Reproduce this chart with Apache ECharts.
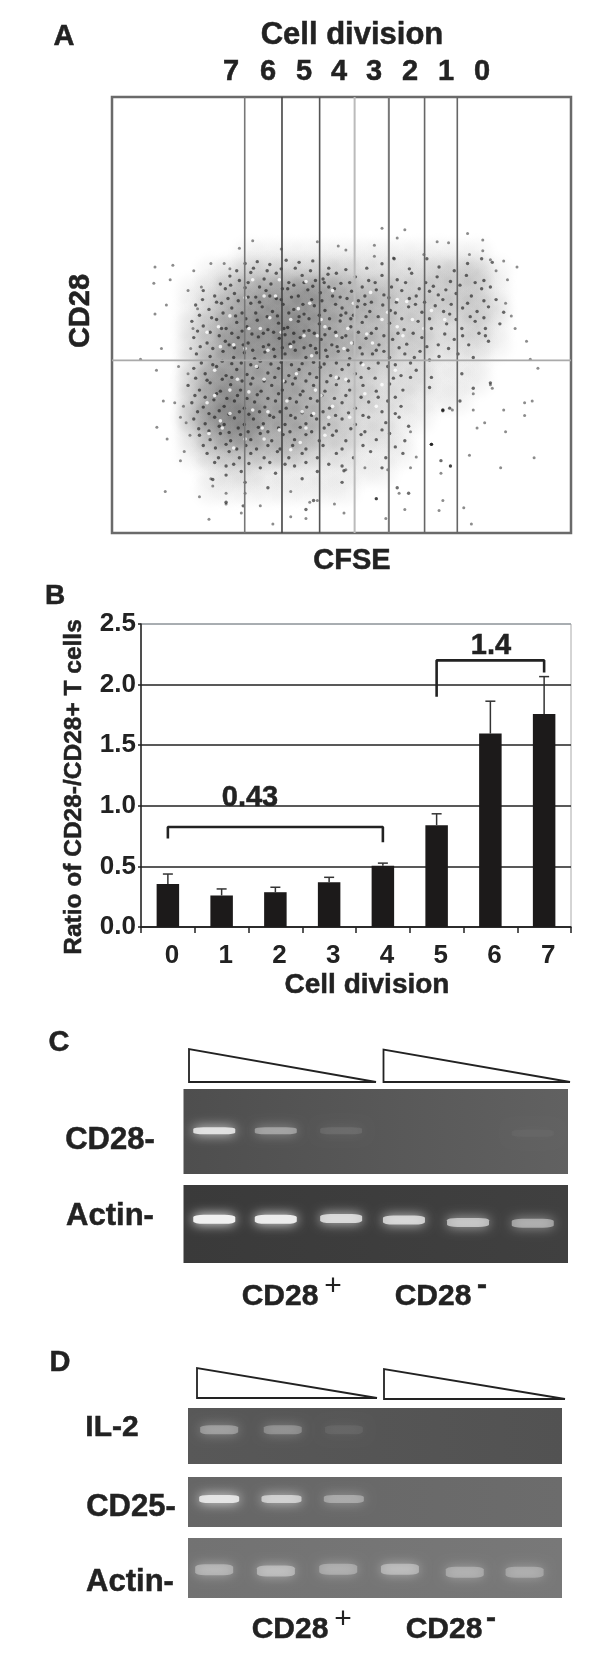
<!DOCTYPE html>
<html><head><meta charset="utf-8">
<style>html,body{margin:0;padding:0;background:#fff}#c{width:600px;height:1654px}</style>
<script src="https://cdn.jsdelivr.net/npm/echarts@6/dist/echarts.min.js"></script>
</head><body><div id="c"></div>
<script>
// ---------- Panel A: values (channel units follow the plot frame)
const gateChannels = [639, 737, 836, 928, 1018, 1112, 1198];
const quadrantChannel = 993;
const densityColumns = [400,450,500,550,600,650,700,750,800,850,900,950,1000,1050,1100,1150,1200,1250,1300,1350,1400];
const densityRows = [700,750,800,850,900,950,1000,1050,1100,1150,1200,1250,1300,1350];
const densityLevels = [
 [0,0,0,0,0,1,1,1,1,1,1,1,1,1,1,1,1,1,0,0,0],
 [0,0,0,1,2,3,3,3,3,3,3,2,2,2,2,3,3,3,1,0,0],
 [0,0,1,2,4,5,6,6,7,6,5,4,4,3,3,3,3,3,1,0,0],
 [0,0,1,3,5,6,7,7,7,6,5,5,4,3,3,3,3,3,2,0,0],
 [0,0,2,4,6,7,7,8,7,6,5,4,4,3,3,2,2,3,1,0,0],
 [0,0,2,4,7,7,7,8,7,6,5,5,4,3,3,2,2,2,1,0,0],
 [0,0,2,5,6,6,6,6,6,5,4,3,3,2,2,1,1,1,0,0,0],
 [0,0,3,6,7,6,6,6,5,4,3,3,2,2,2,1,1,1,0,0,0],
 [0,0,3,6,8,7,6,6,5,4,3,3,2,2,1,1,1,0,0,0,0],
 [0,0,4,7,8,8,6,6,5,4,3,2,2,1,1,0,0,0,0,0,0],
 [0,0,2,5,7,7,5,5,5,3,3,2,2,1,0,0,0,0,0,0,0],
 [0,0,1,3,4,4,4,4,3,2,2,1,1,1,0,0,0,0,0,0,0],
 [0,0,0,1,2,2,1,1,1,1,1,1,1,0,0,0,0,0,0,0,0],
 [0,0,0,1,1,1,1,1,1,1,1,0,0,0,0,0,0,0,0,0,0]
];
const outlierEvents = [[403,735],[450,730],[400,780],[443,770],[433,840],[403,865],[420,960],[365,990],[407,1020],[465,1010],[425,1105],[455,1110],[470,1150],[408,1178],[435,1210],[430,1355],[520,1370],[550,1320],[590,1390],[545,1432],[630,1415],[680,1395],[713,1445],[760,1425],[800,1430],[830,1380],[875,1390],[900,1415],[985,1375],[1010,1430],[1060,1405],[1150,1408],[1215,1400],[1235,1445],[1160,1380],[1045,1360],[1400,1262],[1312,1290],[1395,1105],[1375,1110],[1375,1145],[1410,1015],[1390,990],[1380,940],[1355,735],[1320,718],[1265,660],[1225,642],[1060,632],[1000,628],[1040,655],[660,662],[625,683],[735,685],[830,665],[885,677],[905,688],[980,675],[1145,665],[1175,668],[1265,690],[1285,715],[1230,700],[1110,700],[1030,710],[980,705],[550,725],[585,725],[505,745],[490,800],[1340,870],[1325,835],[1350,905],[1290,1070],[1240,1085],[1320,1130],[1270,1165],[1250,1180],[1325,1190],[1230,1255],[1180,1285],[1155,1305],[1130,1225],[1090,1260],[1075,1190],[1185,1130],[1160,1130],[1240,1130],[1285,1060],[905,1295],[955,1290],[1015,1295],[1075,1290],[760,1355],[810,1385],[640,1360],[590,1360],[555,1340],[470,1270],[480,1245],[495,1200],[485,1165],[478,1120],[490,1030],[497,960],[503,905],[515,850],[525,790],[600,740],[1330,770],[1300,745]];
const darkEvents = [
[640,725],[672,720],[705,728],[748,716],[782,722],[818,718],[860,738],[905,742],[960,738],[1000,726],[1032,712],[1072,740],[1118,712],[1150,735],[1190,745],[1225,725],[1262,712],[1290,722],
[600,760],[625,772],[655,750],[690,768],[722,752],[755,778],[790,758],[825,772],[858,755],[892,780],[930,762],[965,772],[1000,758],[1040,770],[1078,752],[1115,778],[1145,762],[1180,775],[1222,758],[1268,772],[1285,790],
[530,800],[560,815],[588,795],[612,808],[640,792],[668,818],[695,800],[722,822],[752,795],[780,815],[805,798],[838,806],[860,790],[890,818],[920,802],[955,815],[985,798],[1018,820],[1052,800],[1090,815],[1125,802],[1160,825],[1195,808],[1235,815],[1262,795],[1300,825],
[510,840],[545,852],[578,835],[605,848],[632,862],[655,835],[685,845],[712,858],[740,838],[768,852],[795,865],[822,842],[850,855],[878,838],[905,862],[935,845],[968,858],[1002,840],[1035,862],[1070,845],[1105,860],[1140,842],[1178,865],[1212,848],[1250,858],[1280,845],[1320,860],
[500,885],[530,898],[565,880],[590,905],[618,888],[645,900],[672,882],[700,908],[728,890],[752,902],[780,885],[808,910],[835,892],[862,905],[890,884],[918,900],[948,888],[985,905],[1020,890],[1058,908],[1095,885],[1130,905],[1170,892],[1210,905],[1245,885],[1272,905],[1310,892],
[505,930],[540,945],[572,925],[598,950],[622,930],[648,945],[675,928],[702,950],[730,932],[745,922],[758,948],[785,930],[812,952],[840,935],[868,950],[895,930],[925,945],[958,932],[992,950],[1028,935],[1065,948],[1105,930],[1148,950],[1190,935],[1228,950],[1272,925],[1280,940],
[512,975],[548,982],[582,968],[610,985],[638,972],[665,988],[692,970],[718,982],[745,975],[772,965],[800,985],[828,972],[856,982],[885,968],[915,988],[948,975],[985,965],[1020,985],[1060,975],[1100,968],[1150,982],[1200,975],[1240,985],
[505,1015],[535,1030],[565,1010],[590,1035],[618,1018],[645,1032],[672,1012],[700,1028],[728,1015],[755,1035],[782,1018],[810,1030],[838,1012],[865,1035],[895,1018],[930,1030],[965,1015],[1015,1010],[1050,1035],[1090,1020],[1130,1040],[1210,1030],[1285,1055],
[490,1062],[520,1075],[548,1055],[575,1078],[602,1060],[628,1075],[655,1058],[682,1078],[710,1062],[738,1075],[765,1058],[792,1078],[820,1062],[850,1078],[880,1060],[915,1075],[950,1062],[985,1078],[1020,1058],[1055,1075],[1125,1068],[1240,1070],
[500,1110],[530,1122],[558,1102],[585,1120],[612,1105],[638,1125],[665,1108],[692,1122],[720,1105],[748,1125],[775,1108],[802,1122],[830,1105],[862,1125],[895,1110],[930,1125],[965,1108],[1015,1105],[1050,1120],[1160,1132],[1178,1125],[1205,1105],
[505,1155],[535,1168],[560,1150],[585,1170],[612,1152],[638,1170],[662,1155],[688,1168],[715,1150],[745,1170],[772,1152],[800,1168],[828,1155],[860,1170],[895,1155],[930,1170],[965,1150],[1010,1165],[1045,1150],[1070,1175],
[520,1200],[548,1212],[575,1195],[602,1215],[628,1198],[655,1212],[680,1195],[710,1215],[740,1198],[770,1212],[800,1198],[835,1215],[870,1200],[905,1215],[945,1198],[985,1212],[1020,1195],[1060,1215],[1130,1225],
[540,1250],[570,1262],[598,1245],[625,1262],[655,1250],[690,1262],[725,1245],[755,1262],[790,1250],[830,1262],[880,1250],[925,1262],[970,1245],[1010,1262],[1055,1250],
[590,1285],[630,1300],[680,1290],[720,1305],[770,1285],[830,1300],[895,1285],[900,1298],[1000,1290],[590,1310],[555,1322],[640,1330],[700,1345],[790,1320],[895,1330],[1040,1345],[1070,1360],[985,1375],[820,1380],[800,1405],[635,1395],[590,1385],[1155,1270],[1180,1285],[1130,1225],[1160,1130],
[618,745],[662,738],[698,745],[735,740],[772,738],[812,745],[845,768],[880,752],[915,778],[948,790],[982,778],[1025,790],[1062,778],[1098,795],[1135,788],[1168,798],[1205,785],[1245,778],
[575,782],[602,785],[648,778],[678,790],[708,782],[738,795],[768,785],[795,778],[818,788],[848,778],[875,795],[908,822],[938,828],[972,832],[1005,812],[1038,832],[1072,822],[1112,832],[1148,812],[1182,838],[1225,835],[1268,828],
[528,825],[565,832],[595,822],[622,828],[648,818],[678,832],[705,815],[735,825],[762,818],[792,838],[815,825],[842,828],[870,815],[895,848],[925,868],[955,838],[990,872],[1022,855],[1052,878],[1088,838],[1125,878],[1162,858],[1195,880],[1232,872],[1268,875],
[520,868],[552,875],[582,862],[615,870],[642,878],[668,862],[698,872],[725,870],[755,862],[782,872],[808,878],[835,868],[862,878],[892,868],[918,878],[958,872],
[515,912],[548,915],[578,905],[605,918],[632,912],[658,920],[688,918],[715,915],[742,905],[768,918],[795,912],[822,918],[850,922],[878,915],[905,925],[938,915],[972,918],[1005,925],[1042,918],[1082,918],[1118,955],[1165,920],[1212,925],[1255,918],
[522,955],[555,960],[588,940],[612,958],[635,950],[660,965],[688,955],[715,962],[738,958],[768,942],[795,958],[825,960],[852,965],[882,955],[910,965],[942,958],[975,975],[1005,968],[1045,958],[1085,985],[1125,992],[1175,960],
[525,1000],[555,1005],[580,995],[605,1002],[630,1000],[655,1005],[680,995],[708,1003],[735,998],[762,1005],[790,1002],[820,998],[848,1003],[880,1000],[912,1005],[945,1000],[990,1000],[1035,1005],[1075,1000],
[510,1042],[540,1048],[580,1045],[605,1040],[632,1050],[660,1042],[690,1050],[718,1040],[745,1052],[772,1042],[800,1050],[828,1040],[855,1052],[885,1042],[912,1050],[945,1040],[982,1042],[1030,1042],[1075,1040],
[508,1090],[535,1095],[565,1085],[592,1098],[620,1090],[645,1098],[672,1088],[700,1098],[728,1085],[758,1098],[785,1088],[812,1098],[842,1090],[875,1098],[905,1090],[945,1095],[990,1095],[1035,1095],
[515,1135],[545,1140],[572,1132],[598,1142],[625,1135],[650,1142],[678,1135],[705,1145],[732,1135],[760,1145],[790,1138],[815,1145],[845,1135],[878,1145],[912,1138],[950,1145],[1000,1135],[1035,1140],
[518,1182],[545,1188],[572,1175],[598,1192],[622,1180],[648,1190],[675,1178],[700,1190],[728,1180],[758,1190],[785,1178],[815,1190],[848,1180],[880,1188],[918,1182],[955,1190],[1000,1185],
[530,1228],[562,1235],[590,1225],[618,1238],[642,1228],[670,1238],[700,1228],[732,1238],[765,1228],[800,1238],[845,1228],[895,1238],[950,1228],[1035,1232],
[560,1275],[610,1280],[650,1278],[705,1275],[745,1280],[800,1275],[860,1280]
];
const whiteSpeckles = [
[640,820],[690,815],[720,815],[780,850],[810,835],[760,880],[705,875],[650,905],[830,925],[850,900],[910,905],[960,920],[1040,825],[1065,830],[1000,880],[1055,925],[1110,905],
[620,1045],[670,1010],[740,1050],[790,1135],[700,1135],[650,1080],[600,1140],[560,1090],[760,1240],[685,1180],[840,1090],[880,1040],[815,980],[760,955],[610,950],[570,900],[900,960],[950,1005],[1000,1060],[640,1210],[580,1180],[730,1185],[820,1140],[700,965],
[660,770],[730,770],[800,775],[870,800],[925,835],[970,805],[1015,860],[880,925],[920,945],[975,945],[1040,900],[1080,880],[1130,855],[1165,880],[600,870],[540,915],[575,955],[640,960],[680,905],[735,915],[795,925],[840,880],[560,1020],[600,1075],[690,1045],[775,1030],[825,1075],[870,1120],[905,1045],[955,1085],[540,1110],[575,1160],[660,1130],[750,1105],[800,1180],[860,1150],[545,1195],[610,1235],[690,1210],[785,1220],[850,1200],[915,1150],[985,1120],[1035,1020]
];
// ---------- Panel B
const divisionLabels = ['0','1','2','3','4','5','6','7'];
const ratioMeans = [0.355,0.26,0.287,0.369,0.505,0.84,1.596,1.757];
const ratioUpperErrors = [0.437,0.314,0.328,0.41,0.527,0.934,1.863,2.066];
const lowBracket = [[0,0.73],[0,0.825],[4,0.825],[4,0.70]];
const highBracket = [[5,1.9],[5,2.2],[7,2.2],[7,2.1]];
// ---------- Panels C & D: lane position (0-6), band position (% of blot height), band intensity
const blotC1 = [[0.48,49,0.85],[1.44,49,0.4],[2.46,49,0.1],[5.45,52,0.03]];
const blotC2 = [[0.48,44,1],[1.44,44,0.95],[2.46,43,0.78],[3.44,45,0.75],[4.44,48,0.62],[5.45,49,0.48]];
const blotD1 = [[0.5,39,0.34],[1.52,39,0.27],[2.5,39,0.07]];
const blotD2 = [[0.5,44,0.85],[1.5,44,0.65],[2.5,44,0.36]];
const blotD3 = [[0.42,53,0.38],[1.41,55,0.42],[2.41,52,0.32],[3.4,52,0.4],[4.44,57,0.32],[5.4,57,0.3]];

const FONT = '"Liberation Sans", Arial, sans-serif', INK = '#222';
const grids = [], xAxes = [], yAxes = [], series = [];
function hiddenValueAxis(min, max, inverse) {
  return {type:'value', min, max, inverse:!!inverse, show:false, splitLine:{show:false}};
}
// Panel A
grids.push({left:112, top:97, width:459, height:436, show:true, backgroundColor:'#fff', borderColor:'#6a6a6a', borderWidth:2.5});
xAxes.push(hiddenValueAxis(290,1497)); yAxes.push(hiddenValueAxis(265,1470,true));
const densityData = [];
densityRows.forEach((y,r)=>densityColumns.forEach((x,c)=>{ if(densityLevels[r][c]>0) densityData.push([x,y,densityLevels[r][c]]); }));
const softBlob = {type:'radial',x:.5,y:.5,r:.5,colorStops:[{offset:0,color:'rgba(35,35,35,1)'},{offset:.45,color:'rgba(35,35,35,.55)'},{offset:.8,color:'rgba(35,35,35,.1)'},{offset:1,color:'rgba(35,35,35,0)'}]};
series.push({type:'scatter', xAxisIndex:0, yAxisIndex:0, silent:true, z:1, symbol:'circle', symbolSize:46,
  data:densityData.map(d=>({value:d, itemStyle:{color:softBlob, opacity:d[2]*0.06}}))});
series.push({type:'scatter', xAxisIndex:0, yAxisIndex:0, silent:true, z:2, symbolSize:3, data:outlierEvents, itemStyle:{color:'#666',opacity:.75}});
series.push({type:'scatter', xAxisIndex:0, yAxisIndex:0, silent:true, z:2, symbolSize:3.4, data:darkEvents, itemStyle:{color:'#151515',opacity:.62}});
series.push({type:'scatter', xAxisIndex:0, yAxisIndex:0, silent:true, z:3, symbolSize:3.6, data:whiteSpeckles, itemStyle:{color:'#fff',opacity:.8}});
const gateColors = ['#777','#444','#555','#bbb','#777','#666','#666'];
gateChannels.forEach((g,i)=>series.push({type:'line', xAxisIndex:0, yAxisIndex:0, silent:true, z:4, symbol:'none',
  data:[[g,265],[g,1470]], lineStyle:{color:gateColors[i], width:i===3||i===4?2:1.6}}));
series.push({type:'line', xAxisIndex:0, yAxisIndex:0, silent:true, z:4, symbol:'none',
  data:[[290,quadrantChannel],[1497,quadrantChannel]], lineStyle:{color:'#aaa', width:1.6}});

// Panel B
grids.push({left:141, top:624, width:430, height:303, show:true, backgroundColor:'#fff', borderColor:'#aaa', borderWidth:1});
xAxes.push({type:'category', data:divisionLabels, gridIndex:1,
  axisLine:{lineStyle:{color:INK,width:1.5}}, axisTick:{show:true, alignWithLabel:false, length:6, lineStyle:{color:INK,width:1.5}},
  axisLabel:{color:INK, fontFamily:FONT, fontWeight:'bold', fontSize:26, margin:16, padding:[0,0,0,8]}});
yAxes.push({type:'value', gridIndex:1, min:0, max:2.5, interval:0.5,
  axisLine:{show:true, lineStyle:{color:INK,width:1.5}}, axisTick:{show:true, length:3, lineStyle:{color:INK,width:1.5}},
  axisLabel:{color:INK, fontFamily:FONT, fontWeight:'bold', fontSize:26, margin:5, padding:[4,0,0,0], formatter:v=>v.toFixed(1)},
  splitLine:{show:true, lineStyle:{color:[INK,INK,INK,INK,INK,'#9aa0a6'], width:1.5}}});
series.push({type:'bar', xAxisIndex:1, yAxisIndex:1, barWidth:22.5, z:3, data:ratioMeans, itemStyle:{color:'#1c1a1a'}});
series.push({type:'custom', xAxisIndex:1, yAxisIndex:1, z:4, silent:true,
  data:ratioMeans.map((m,i)=>[i,m,ratioUpperErrors[i]]),
  encode:{x:0,y:[1,2]},
  renderItem(params,api){
    const a=api.coord([api.value(0),api.value(1)]), b=api.coord([api.value(0),api.value(2)]);
    const st={stroke:'#333',lineWidth:1.5,fill:null};
    return {type:'group',children:[
      {type:'line',shape:{x1:a[0],y1:a[1],x2:b[0],y2:b[1]},style:st},
      {type:'line',shape:{x1:b[0]-5,y1:b[1],x2:b[0]+5,y2:b[1]},style:st}]};
  }});
[lowBracket,highBracket].forEach(b=>series.push({type:'line', xAxisIndex:1, yAxisIndex:1, z:5, silent:true, symbol:'none', data:b, lineStyle:{color:INK,width:2.6}}));

// Blots
function blot(box, bands, bg, bandSize){
  const i = grids.length;
  grids.push({left:box[0], top:box[1], width:box[2], height:box[3], show:true, backgroundColor:bg, borderWidth:0});
  xAxes.push(Object.assign(hiddenValueAxis(0,6),{gridIndex:i}));
  yAxes.push(Object.assign(hiddenValueAxis(0,100,true),{gridIndex:i}));
  series.push({type:'scatter', xAxisIndex:i, yAxisIndex:i, silent:true, symbol:'roundRect', symbolSize:bandSize,
    data:bands.map(b=>({value:[b[0],b[1]], itemStyle:{color:'#f0f0f0', opacity:b[2], shadowBlur:12, shadowColor:'#fff'}}))});
}
const grad = (a,b,horizontal)=>({type:'linear',x:0,y:0,x2:horizontal?1:0,y2:horizontal?0:1,colorStops:[{offset:0,color:a},{offset:1,color:b}]});
blot([183.5,1089,384.5,85], blotC1, grad('#4e4e4e','#616161',true), [42,7]);
blot([183.5,1185,384.5,78], blotC2, grad('#3a3a3a','#404040',true), [42,9]);
blot([188,1408,374,56], blotD1, grad('#585858','#525252',true), [38,9]);
blot([188,1477,374,50], blotD2, grad('#666','#6c6c6c',true), [40,8]);
blot([188,1538,374,60], blotD3, grad('#727272','#787878',true), [38,11]);

// Annotation text and dilution wedges
const t=(text,x,y,size,extra)=>({type:'text',x,y,style:Object.assign({text,fill:INK,stroke:INK,lineWidth:0.5,font:'bold '+size+'px '+FONT,textAlign:'center',textVerticalAlign:'middle'},extra||{})});
const wedge=(l,top,r,bot)=>({type:'polygon',shape:{points:[[l,top],[l,bot],[r,bot]]},style:{fill:'#fff',stroke:'#222',lineWidth:1.8}});
const plus={font:'normal 30px '+FONT,lineWidth:0};
const graphic=[
 t('A',64,37,29), t('Cell division',352,35,31),
 ...['7','6','5','4','3','2','1','0'].map((s,i)=>t(s,[231,268,304,339,374,410,446,482][i],72,29)),
 Object.assign(t('CD28',81,311,29),{rotation:Math.PI/2}),
 t('CFSE',352,561,29),
 t('B',55,596,28), t('0.43',250,798,29), t('1.4',491,646,29),
 Object.assign(t('Ratio of CD28-/CD28+ T cells',74,787,24.5),{rotation:Math.PI/2}),
 t('Cell division',367,985,28),
 t('C',59,1043,29), t('CD28-',110,1140,31), t('Actin-',110,1216,31),
 t('CD28',280,1297,30), t('+',333,1287,30,plus), t('CD28',433,1297,30), t('-',482,1286,30),
 wedge(189,1049,376,1082), wedge(383.5,1049.5,570,1082),
 t('D',60,1363,29), t('IL-2',112,1428,30), t('CD25-',131,1507,31), t('Actin-',130,1582,31),
 t('CD28',290,1630,30), t('+',343,1620,30,plus), t('CD28',444,1630,30), t('-',491,1619,30),
 wedge(197,1368,377,1398), wedge(384,1369,565,1399)
];
const chart = echarts.init(document.getElementById('c'), null, {renderer:'canvas', width:600, height:1654});
chart.setOption({animation:false, backgroundColor:'#fff', grid:grids, xAxis:xAxes, yAxis:yAxes, series, graphic});
</script></body></html>
